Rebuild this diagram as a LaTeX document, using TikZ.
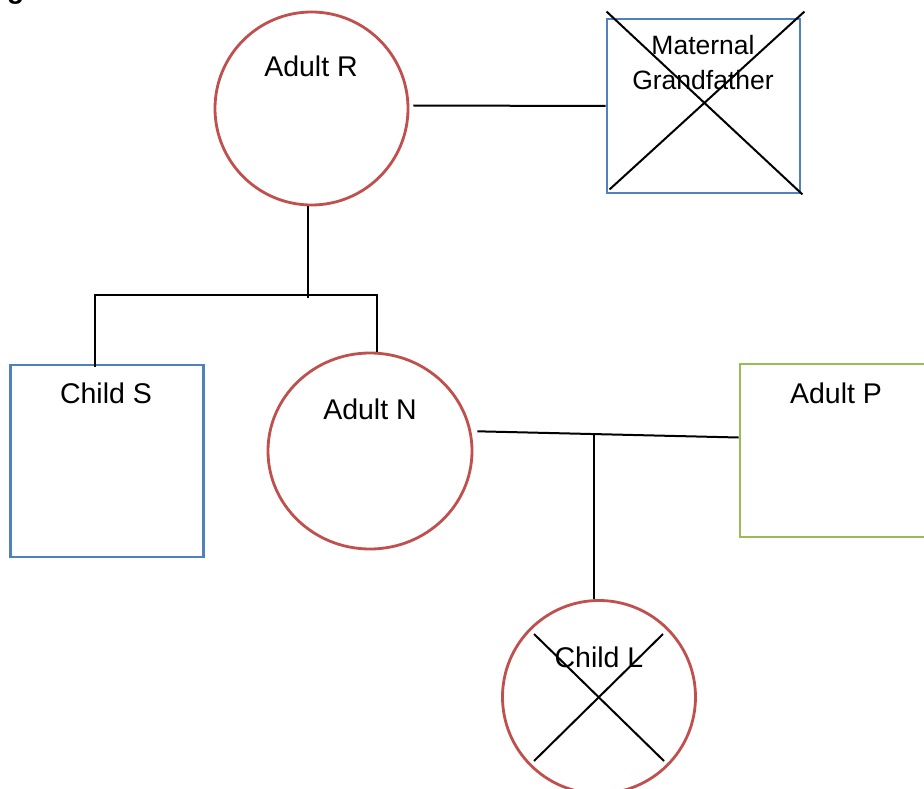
\documentclass[tikz,border=0pt]{standalone}
\usepackage{fontspec}
\setmainfont{Liberation Sans}
\usetikzlibrary{shapes.geometric}
\definecolor{femred}{RGB}{192,80,77}
\definecolor{maleblue}{RGB}{79,129,189}
\definecolor{partgreen}{RGB}{155,187,89}
\tikzset{
	female/.style={circle, draw=femred, line width=2.8pt, minimum size=193pt, inner sep=0pt},
	male/.style={rectangle, draw=maleblue, line width=2.8pt, minimum width=193pt, minimum height=192pt, inner sep=0pt},
	tag/.style={anchor=base, inner sep=0pt, font=\fontsize{28.5}{32}\selectfont},
	smalltag/.style={anchor=base, inner sep=0pt, font=\fontsize{26.5}{30}\selectfont},
	link/.style={line width=2pt, color=black},
}
\begin{document}
\begin{tikzpicture}[x=1pt, y=-1pt]
		%%%%% START %%%%%
		\useasboundingbox[fill=white] (0, 0) rectangle (924, 789);
		
		\node[anchor=base west, inner sep=0pt, font=\fontsize{28}{32}\selectfont\bfseries] (caption) at (7, -1) {g};
		
		% first generation
		\node[female] (adultR) at (311.5, 108.5) {};
		\node[tag] at (311, 77) {Adult R};
		\node[male, minimum height=174pt] (grandpa) at (703.5, 106) {};
		\node[smalltag] at (703, 55) {Maternal};
		\node[smalltag] at (703, 90) {Grandfather};
		\draw[link] ([shift={(1,-6)}]grandpa.north west) -- ([xshift=1pt]grandpa.south east);
		\draw[link] ([shift={(3,-6)}]grandpa.north east) -- ([shift={(4,-5)}]grandpa.south west);
		
		\draw[link] ([shift={(4,-3)}]adultR.east) -- (grandpa.west);
		
		% second generation
		\node[male] (childS) at (107, 461) {};
		\node[tag] at (106, 403) {Child S};
		\node[female, ellipse, minimum width=204pt, minimum height=196pt] (adultN) at (370, 451) {};
		\node[tag] at (370, 419) {Adult N};
		\node[male, draw=partgreen, minimum height=173pt] (adultP) at (836.5, 450.5) {};
		\node[tag] at (836, 403) {Adult P};
		
		\coordinate (sibs) at (308, 295);
		\draw[link] ([xshift=-3.5pt]adultR.south) -- ([yshift=-3pt]sibs);
		\draw[link] ([shift={(-12,3)}]childS.north) |- (sibs) -| ([xshift=7pt]adultN.north);
		
		\draw[link] ([xshift=6pt]adultN.11) -- coordinate[pos=0.447] (union) ([yshift=13pt]adultP.west);
		
		% third generation
		\node[female] (childL) at (599, 697) {};
		\node[tag] at (599, 667) {Child L};
		\draw[link] (union) -- (union |- childL.north);
		\draw[link] ([shift={(-65,-63)}]childL.center) -- ([shift={(65,64)}]childL.center);
		\draw[link] ([shift={(64,-63)}]childL.center) -- ([shift={(-65,64)}]childL.center);
		%%%%% END %%%%%
	\end{tikzpicture}
\end{document}
